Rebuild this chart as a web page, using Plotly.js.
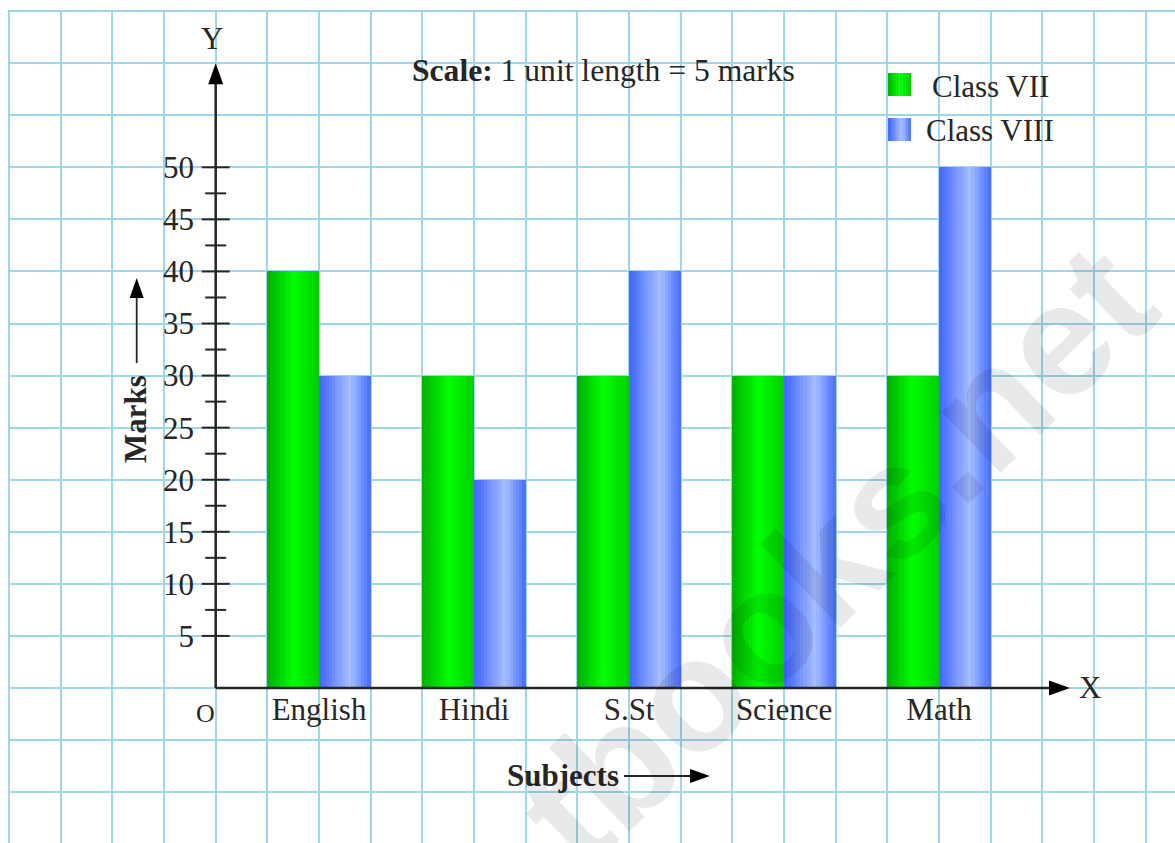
<!DOCTYPE html>
<html>
<head>
<meta charset="utf-8">
<script src="https://cdn.plot.ly/plotly-3.0.1.min.js"></script>
<style>html,body{margin:0;padding:0;background:#fff;}#chart{width:1175px;height:843px;}</style>
</head>
<body>
<div id="chart"></div>
<script>
// ---- data ----
const subjects = ['English', 'Hindi', 'S.St', 'Science', 'Math'];
const classVII = [40, 30, 30, 30, 30];
const classVIII = [30, 20, 40, 30, 50];
const seriesNames = ['Class VII', 'Class VIII'];
const yTickVals = [5, 10, 15, 20, 25, 30, 35, 40, 45, 50];
const yTickText = ['5', '10', '15', '20', '25', '30', '35', '40', '45', '50'];
const yMinorTicks = [7.5, 12.5, 17.5, 22.5, 27.5, 32.5, 37.5, 42.5, 47.5];

// ---- geometry helpers (pixel -> axis units) ----
const W = 1175, H = 843;
const ML = 8, MT = 10;
const PX0 = 215.7, UX = 51.67;   // y-axis pixel x, px per grid unit
const PY0 = 688, UY = 10.414;    // x-axis pixel y, px per mark
const X = px => (px - PX0) / UX;
const Y = py => (PY0 - py) / UY;
const CAT0 = PX0 + 2 * UX, UCAT = 3 * UX; // category axis mapping
const XC = px => (px - CAT0) / UCAT;

const FONT = 'Liberation Serif, Times New Roman, serif';
const INK = '#262626';

// cylinder-like shading
const greenStops = [[0, [0, 175, 0]], [0.5, [0, 255, 0]], [1, [0, 205, 0]]];
const blueStops = [[0, [62, 100, 255]], [0.6, [166, 190, 255]], [1, [70, 110, 255]]];
function shade(stops, t) {
  for (let k = 0; k < stops.length - 1; k++) {
    const [t0, c0] = stops[k], [t1, c1] = stops[k + 1];
    if (t >= t0 && t <= t1) {
      const f = (t - t0) / (t1 - t0);
      const c = c0.map((v, j) => Math.round(v + (c1[j] - v) * f));
      return `rgb(${c[0]},${c[1]},${c[2]})`;
    }
  }
  const c = stops[stops.length - 1][1];
  return `rgb(${c[0]},${c[1]},${c[2]})`;
}

const N = 16;
const traces = [];
const series = [
  {name: seriesNames[0], vals: classVII, stops: greenStops, start: -1 / 3},
  {name: seriesNames[1], vals: classVIII, stops: blueStops, start: 0}
];
series.forEach(s => {
  for (let i = 0; i < N; i++) {
    traces.push({
      type: 'bar', x: subjects, y: s.vals, xaxis: 'x2', yaxis: 'y',
      name: s.name, legendgroup: s.name, showlegend: false,
      width: 1 / (3 * N) + (i < N - 1 ? 0.002 : 0),
      offset: s.start + i / (3 * N),
      marker: {color: shade(s.stops, (i + 0.5) / N), line: {width: 0}},
      hoverinfo: i === Math.floor(N / 2) ? 'x+y+name' : 'skip'
    });
  }
});

// y-axis tick marks
traces.push({
  type: 'scatter', mode: 'markers', x: yTickVals.map(() => 0), y: yTickVals,
  xaxis: 'x', yaxis: 'y', showlegend: false, hoverinfo: 'skip',
  marker: {symbol: 'line-ew', size: 20, line: {color: INK, width: 2}}
});
traces.push({
  type: 'scatter', mode: 'markers', x: yMinorTicks.map(() => 0), y: yMinorTicks,
  xaxis: 'x', yaxis: 'y', showlegend: false, hoverinfo: 'skip',
  marker: {symbol: 'line-ew', size: 15, line: {color: INK, width: 2}}
});
// y-axis tick labels
traces.push({
  type: 'scatter', mode: 'text', x: yTickVals.map(() => X(194)), y: yTickVals.map(v => v - 0.3),
  text: yTickText, textposition: 'middle left', xaxis: 'x', yaxis: 'y',
  showlegend: false, hoverinfo: 'skip', cliponaxis: false,
  textfont: {family: FONT, size: 31, color: INK}
});

const shapes = [];
// axes
shapes.push({type: 'line', xref: 'x', yref: 'y', x0: 0, y0: 0, x1: 0, y1: Y(80), line: {color: INK, width: 2.5}});
shapes.push({type: 'line', xref: 'x', yref: 'y', x0: 0, y0: 0, x1: X(1052), y1: 0, line: {color: INK, width: 2.5}});
// arrow heads (pixel-sized paths)
function arrowHead(ax, ay, dir, len, half) {
  let p;
  if (dir === 'up') p = `M0,0 L${-half},${-len} L${half},${-len} Z`;
  else p = `M0,0 L${-len},${half} L${-len},${-half} Z`;
  return {type: 'path', xref: 'x', yref: 'y', xsizemode: 'pixel', ysizemode: 'pixel',
    xanchor: ax, yanchor: ay, path: p, fillcolor: '#000', line: {width: 0}};
}
shapes.push(arrowHead(0, Y(63.3), 'up', 21, 7.5));
shapes.push(arrowHead(X(1070), 0, 'right', 21, 7.5));
// "Marks" arrow
shapes.push({type: 'line', xref: 'x', yref: 'y', x0: X(136.7), y0: Y(363), x1: X(136.7), y1: Y(292), line: {color: INK, width: 1.8}});
shapes.push(arrowHead(X(136.7), Y(278), 'up', 20, 7));
// "Subjects" arrow
shapes.push({type: 'line', xref: 'x', yref: 'y', x0: X(624), y0: Y(776), x1: X(695), y1: Y(776), line: {color: INK, width: 1.8}});
shapes.push(arrowHead(X(710), Y(776), 'right', 20, 7));

// custom legend swatches
const SW = 8;
[[greenStops, 73], [blueStops, 118]].forEach(([st, top]) => {
  for (let i = 0; i < SW; i++) {
    const x0 = 888 + 23 * i / SW, x1 = 888 + 23 * (i + 1) / SW + (i < SW - 1 ? 0.3 : 0);
    shapes.push({type: 'rect', xref: 'x', yref: 'y', x0: X(x0), x1: X(x1), y0: Y(top + 23), y1: Y(top),
      fillcolor: shade(st, (i + 0.5) / SW), line: {width: 0}, layer: 'above'});
  }
});

const annotations = [
  {x: X(603), y: Y(70), xref: 'x', yref: 'y', showarrow: false, xanchor: 'center', yanchor: 'middle',
    text: '<b>Scale:</b> 1 unit length = 5 marks', font: {family: FONT, size: 31.6, color: INK}},
  {x: X(930), y: Y(86), xref: 'x', yref: 'y', showarrow: false, xanchor: 'left', yanchor: 'middle',
    text: seriesNames[0], font: {family: FONT, size: 31, color: INK}},
  {x: X(924), y: Y(130), xref: 'x', yref: 'y', showarrow: false, xanchor: 'left', yanchor: 'middle',
    text: seriesNames[1], font: {family: FONT, size: 31, color: INK}},
  {x: X(135), y: Y(419), xref: 'x', yref: 'y', showarrow: false, textangle: -90,
    text: '<b>Marks</b>', font: {family: FONT, size: 31, color: INK}},
  {x: X(563), y: Y(775), xref: 'x', yref: 'y', showarrow: false,
    text: '<b>Subjects</b>', font: {family: FONT, size: 31, color: INK}},
  {x: X(211.7), y: Y(38), xref: 'x', yref: 'y', showarrow: false, text: 'Y', font: {family: FONT, size: 31, color: INK}},
  {x: X(1090), y: Y(687), xref: 'x', yref: 'y', showarrow: false, text: 'X', font: {family: FONT, size: 31, color: INK}},
  {x: X(205), y: Y(713), xref: 'x', yref: 'y', showarrow: false, text: 'O', font: {family: FONT, size: 26, color: INK}},
  {x: X(835), y: Y(555), xref: 'x', yref: 'y', showarrow: false, textangle: -44,
    text: '<b>tbooks.net</b>', font: {family: 'Liberation Sans, Arial, sans-serif', size: 160, color: 'rgba(0,0,0,0.085)'}}
];

const gridColor = '#9dd7e9';
const layout = {
  width: W, height: H,
  margin: {l: ML, r: 0, t: MT, b: 0, pad: 0},
  paper_bgcolor: '#fff', plot_bgcolor: '#fff',
  barmode: 'overlay', bargap: 0,
  showlegend: false,
  hovermode: 'closest',
  xaxis: {range: [X(ML), X(W)], tick0: 0, dtick: 1, showgrid: true, gridcolor: gridColor, gridwidth: 2,
    zeroline: false, showline: false, ticks: '', showticklabels: false, fixedrange: true},
  xaxis2: {type: 'category', overlaying: 'x', anchor: 'free', position: (H - PY0) / (H - MT), side: 'bottom',
    range: [XC(ML), XC(W)], showgrid: false, zeroline: false, showline: false, ticks: '',
    tickfont: {family: FONT, size: 31, color: INK}, fixedrange: true},
  yaxis: {range: [Y(H), Y(MT)], tick0: 0, dtick: 5, showgrid: true, gridcolor: gridColor, gridwidth: 2,
    zeroline: false, showline: false, ticks: '', showticklabels: false, fixedrange: true},
  shapes: shapes,
  annotations: annotations
};

Plotly.newPlot('chart', traces, layout, {displayModeBar: false, staticPlot: false});
</script>
</body>
</html>
